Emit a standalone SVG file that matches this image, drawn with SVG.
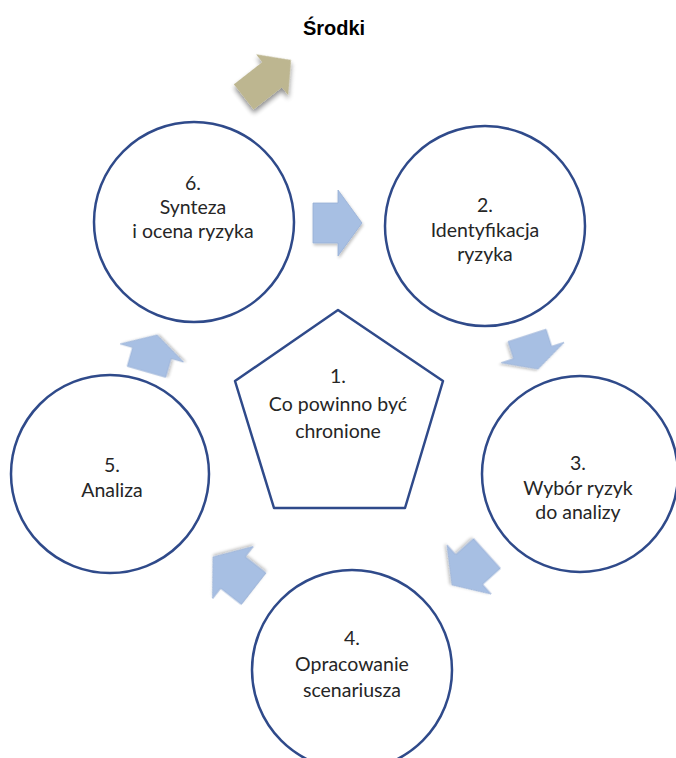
<svg xmlns="http://www.w3.org/2000/svg" xmlns:xlink="http://www.w3.org/1999/xlink" width="676" height="758" viewBox="0 0 676 758">
  <style>
    .node { fill: #ffffff; stroke: #2f4a8a; stroke-width: 2.5; }
    .label { font-family: Lato, "Open Sans", "Liberation Sans", sans-serif; font-size: 19.5px; fill: #262626; text-anchor: middle; }
    .title { font-family: "Liberation Sans", Arial, sans-serif; font-size: 20px; font-weight: bold; fill: #000000; text-anchor: middle; }
    .flow { fill: #a7bfe3; stroke: #98b0d6; stroke-width: 0.8; }
    .out { fill: #bdb690; }
  </style>
  <defs>
    <!-- block arrow pointing +x, tip at origin -->
    <path id="blk" d="M0 0 L-24 -33 L-24 -20 L-49 -20 L-49 20 L-24 20 L-24 33 Z"/>
    <filter id="soft" x="-30%" y="-30%" width="160%" height="160%">
      <feGaussianBlur in="SourceAlpha" stdDeviation="1.5"/>
      <feOffset dx="1" dy="1.5" result="b"/>
      <feComponentTransfer><feFuncA type="linear" slope="0.25"/></feComponentTransfer>
      <feMerge><feMergeNode/><feMergeNode in="SourceGraphic"/></feMerge>
    </filter>
    <filter id="hard" x="-40%" y="-40%" width="180%" height="180%">
      <feGaussianBlur in="SourceAlpha" stdDeviation="2.5"/>
      <feOffset dx="-2" dy="3" result="b"/>
      <feComponentTransfer><feFuncA type="linear" slope="0.45"/></feComponentTransfer>
      <feMerge><feMergeNode/><feMergeNode in="SourceGraphic"/></feMerge>
    </filter>
  </defs>

  <text class="title" x="334" y="35">Środki</text>

  <g id="connectors">
    <!-- outgoing arrow to the title -->
    <path class="out" filter="url(#hard)" transform="translate(291,60) rotate(-38)" d="M0 0 L-24 -26 L-24 -16 L-60 -16 L-60 16 L-24 16 L-24 26 Z"/>
    <!-- cycle arrows -->
    <use xlink:href="#blk" class="flow" filter="url(#soft)" transform="translate(362,223) rotate(0)"/>
    <use xlink:href="#blk" class="flow" filter="url(#soft)" transform="translate(538,369) rotate(72) scale(0.72,1)"/>
    <use xlink:href="#blk" class="flow" filter="url(#soft)" transform="translate(452,585) rotate(138) scale(0.96,1)"/>
    <use xlink:href="#blk" class="flow" filter="url(#soft)" transform="translate(213,557) rotate(218) scale(1.05,1)"/>
    <use xlink:href="#blk" class="flow" filter="url(#soft)" transform="translate(157,335) rotate(286) scale(0.78,1)"/>
  </g>

  <g id="node-1">
    <path class="node" stroke-width="2" stroke-linejoin="round" d="M338 310 L443 381 L405 508 L274 508 L235 381 Z"/>
    <text class="label" x="338" y="383">1.</text>
    <text class="label" x="338" y="411">Co powinno być</text>
    <text class="label" x="338" y="438">chronione</text>
  </g>

  <g id="node-2">
    <circle class="node" cx="485" cy="226" r="100"/>
    <text class="label" x="485" y="212">2.</text>
    <text class="label" x="485" y="237">Identyfikacja</text>
    <text class="label" x="485" y="261">ryzyka</text>
  </g>

  <g id="node-3">
    <circle class="node" cx="580" cy="474" r="98"/>
    <text class="label" x="578" y="470">3.</text>
    <text class="label" x="578" y="495">Wybór ryzyk</text>
    <text class="label" x="578" y="519">do analizy</text>
  </g>

  <g id="node-4">
    <circle class="node" cx="352" cy="670" r="100"/>
    <text class="label" x="352" y="645">4.</text>
    <text class="label" x="352" y="671">Opracowanie</text>
    <text class="label" x="352" y="697">scenariusza</text>
  </g>

  <g id="node-5">
    <circle class="node" cx="110" cy="474" r="99"/>
    <text class="label" x="112" y="472">5.</text>
    <text class="label" x="112" y="497">Analiza</text>
  </g>

  <g id="node-6">
    <circle class="node" cx="194" cy="222" r="100"/>
    <text class="label" x="193" y="190">6.</text>
    <text class="label" x="193" y="214">Synteza</text>
    <text class="label" x="193" y="238">i ocena ryzyka</text>
  </g>
</svg>
